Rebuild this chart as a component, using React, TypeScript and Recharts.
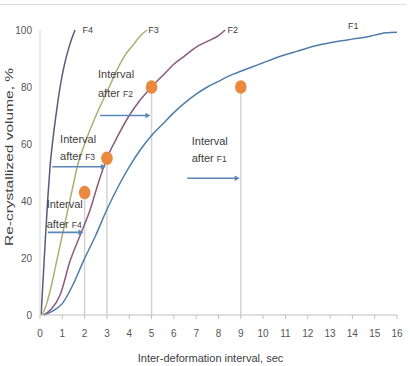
import React from 'react';
import { ComposedChart, Line, Scatter, XAxis, YAxis, ReferenceLine, ReferenceDot } from 'recharts';

const xTicks = [0, 1, 2, 3, 4, 5, 6, 7, 8, 9, 10, 11, 12, 13, 14, 15, 16];
const yTicks = [0, 20, 40, 60, 80, 100];

const f4 = [
  { x: 0.05, y: 0 }, { x: 0.15, y: 14 }, { x: 0.25, y: 28 }, { x: 0.35, y: 41 }, { x: 0.45, y: 52 },
  { x: 0.6, y: 63 }, { x: 0.75, y: 72 }, { x: 0.9, y: 80 }, { x: 1.1, y: 88 }, { x: 1.3, y: 94 },
  { x: 1.57, y: 100 },
];
const f3 = [
  { x: 0.1, y: 0 }, { x: 0.3, y: 4 }, { x: 0.5, y: 10 }, { x: 0.75, y: 19 }, { x: 1.0, y: 28 },
  { x: 1.25, y: 37 }, { x: 1.5, y: 46 }, { x: 1.7, y: 53 }, { x: 2.0, y: 60 }, { x: 2.4, y: 68 },
  { x: 2.8, y: 75 }, { x: 3.1, y: 80 }, { x: 3.45, y: 86 }, { x: 3.8, y: 91 }, { x: 4.2, y: 95 },
  { x: 4.5, y: 98 }, { x: 4.8, y: 100 },
];
const f2 = [
  { x: 0.15, y: 0 }, { x: 0.5, y: 2 }, { x: 0.9, y: 7 }, { x: 1.35, y: 19 }, { x: 1.8, y: 28 },
  { x: 2.25, y: 37 }, { x: 2.6, y: 46 }, { x: 3.0, y: 55 }, { x: 3.5, y: 63 }, { x: 4.0, y: 70 },
  { x: 4.5, y: 75.5 }, { x: 5.0, y: 80 }, { x: 5.5, y: 84 }, { x: 6.0, y: 88 }, { x: 6.5, y: 91 },
  { x: 7.0, y: 94 }, { x: 7.5, y: 96 }, { x: 8.0, y: 98 }, { x: 8.3, y: 100 },
];
const f1 = [
  { x: 0.2, y: 0 }, { x: 0.6, y: 1.5 }, { x: 1.0, y: 4 }, { x: 1.5, y: 11 }, { x: 1.95, y: 19 },
  { x: 2.5, y: 28 }, { x: 3.0, y: 37 }, { x: 3.5, y: 45 }, { x: 4.0, y: 52 }, { x: 4.5, y: 58 },
  { x: 5.0, y: 63 }, { x: 5.5, y: 67 }, { x: 6.0, y: 71 }, { x: 6.5, y: 74.5 }, { x: 7.0, y: 77.5 },
  { x: 7.5, y: 80 }, { x: 8.0, y: 82 }, { x: 8.5, y: 84 }, { x: 9.0, y: 85.5 }, { x: 9.5, y: 87 },
  { x: 10, y: 88.5 }, { x: 10.5, y: 90 }, { x: 11, y: 91.3 }, { x: 11.5, y: 92.5 }, { x: 12, y: 93.7 },
  { x: 12.5, y: 94.7 }, { x: 13, y: 95.5 }, { x: 13.5, y: 96.2 }, { x: 14, y: 96.8 }, { x: 14.5, y: 97.4 },
  { x: 15, y: 98.2 }, { x: 15.5, y: 99 }, { x: 16, y: 99.2 },
];

const dots = [{ x: 2, y: 43 }, { x: 3, y: 55 }, { x: 5, y: 80 }, { x: 9, y: 80 }];

// arrows: from x0 to x1 at level y
const arrows = [
  { x0: 0.35, x1: 1.95, y: 29 },
  { x0: 0.55, x1: 2.95, y: 52 },
  { x0: 2.7, x1: 4.95, y: 70 },
  { x0: 6.6, x1: 8.95, y: 48 },
];

// annotation labels
const notes = [
  { x: 0.3, y: 37.5, y2: 30.5, tag: 'F4' },
  { x: 0.9, y: 60.4, y2: 54.4, tag: 'F3' },
  { x: 2.6, y: 83, y2: 76.5, tag: 'F2' },
  { x: 6.8, y: 59.6, y2: 53.7, tag: 'F1' },
];

const curveLabels = [
  { x: 1.9, y: 99, text: 'F4' },
  { x: 4.85, y: 99, text: 'F3' },
  { x: 8.4, y: 99, text: 'F2' },
  { x: 13.8, y: 100.5, text: 'F1' },
];

const FONT = '"Liberation Sans", Arial, sans-serif';
const TXT = '#404040';

const ArrowShape = (p: any) => {
  const { x1, y1, x2, y2 } = p;
  return (
    <g>
      <line x1={x1} y1={y1} x2={x2 - 3} y2={y2} stroke="#5a86b8" strokeWidth={1.6} />
      <polygon points={`${x2},${y2} ${x2 - 5},${y2 - 2.8} ${x2 - 5},${y2 + 2.8}`} fill="#5a86b8" />
    </g>
  );
};

export default function App() {
  return (
    <div style={{ position: 'absolute', left: 0, top: 0, width: 410, height: 366, background: '#fff' }}>
      <div style={{ position: 'absolute', left: 0, top: 4, width: 406, height: 0, borderTop: '1px solid #dcdcdc' }} />
      <ComposedChart width={410} height={366} margin={{ top: 30, right: 13, left: 0, bottom: 0 }}>
        <XAxis
          type="number"
          dataKey="x"
          domain={[0, 16]}
          ticks={xTicks}
          interval={0}
          allowDataOverflow
          height={51}
          tickSize={4}
          tickMargin={11}
          stroke="#bfbfbf"
          tick={{ fill: '#555', fontSize: 10, fontFamily: FONT }}
          label={{
            content: (props: any) => {
              const vb = props.viewBox;
              return (
                <text x={vb.x + vb.width / 2 - 8} y={362} textAnchor="middle" fill={TXT} fontSize={11} fontFamily={FONT}>
                  Inter-deformation interval, sec
                </text>
              );
            },
          }}
        />
        <YAxis
          type="number"
          dataKey="y"
          domain={[0, 100]}
          ticks={yTicks}
          width={40}
          tickLine={false}
          axisLine={{ stroke: '#d9d9d9' }}
          tick={{ fill: '#555', fontSize: 10, fontFamily: FONT }}
          label={{
            content: () => (
              <text
                x={9}
                y={157}
                transform="rotate(-90, 9, 157)"
                textAnchor="middle"
                dominantBaseline="central"
                fill={TXT}
                fontSize={10.5}
                fontFamily={FONT}
                textLength={178}
                lengthAdjust="spacingAndGlyphs"
              >
                Re-crystallized volume, %
              </text>
            ),
          }}
        />
        {dots.map((d, i) => (
          <ReferenceLine
            key={'v' + i}
            segment={[{ x: d.x, y: 0 }, { x: d.x, y: d.y }]}
            stroke="#d3d3d3"
            strokeWidth={1.5}
          />
        ))}
        <Line data={f1} dataKey="y" type="monotone" stroke="#4f7dab" strokeWidth={1.5} dot={false} isAnimationActive={false} />
        <Line data={f2} dataKey="y" type="monotone" stroke="#8c5a7e" strokeWidth={1.5} dot={false} isAnimationActive={false} />
        <Line data={f3} dataKey="y" type="monotone" stroke="#b0ad74" strokeWidth={1.5} dot={false} isAnimationActive={false} />
        <Line data={f4} dataKey="y" type="monotone" stroke="#575b7c" strokeWidth={1.5} dot={false} isAnimationActive={false} />
        {arrows.map((a, i) => (
          <ReferenceLine
            key={'a' + i}
            segment={[{ x: a.x0, y: a.y }, { x: a.x1, y: a.y }]}
            shape={ArrowShape}
          />
        ))}
        <Scatter
          data={dots}
          dataKey="y"
          fill="#e8893d"
          isAnimationActive={false}
          shape={(p: any) => <ellipse cx={p.cx} cy={p.cy} rx={5.8} ry={6.8} fill="#e8893d" />}
        />
        {notes.map((n, i) => (
          <ReferenceDot
            key={'n' + i}
            x={n.x}
            y={n.y}
            ifOverflow="visible"
            shape={(p: any) => (
              <text x={p.cx} y={p.cy} fill={TXT} fontSize={11} fontFamily={FONT}>Interval</text>
            )}
          />
        ))}
        {notes.map((n, i) => (
          <ReferenceDot
            key={'m' + i}
            x={n.x}
            y={n.y2}
            ifOverflow="visible"
            shape={(p: any) => (
              <text x={p.cx} y={p.cy} fill={TXT} fontSize={11} fontFamily={FONT}>
                after <tspan fontSize={8.5}>{n.tag}</tspan>
              </text>
            )}
          />
        ))}
        {curveLabels.map((c, i) => (
          <ReferenceDot
            key={'c' + i}
            x={c.x}
            y={c.y}
            ifOverflow="visible"
            shape={(p: any) => (
              <text x={p.cx} y={p.cy} fill={TXT} fontSize={9} fontFamily={FONT}>{c.text}</text>
            )}
          />
        ))}
      </ComposedChart>
    </div>
  );
}
